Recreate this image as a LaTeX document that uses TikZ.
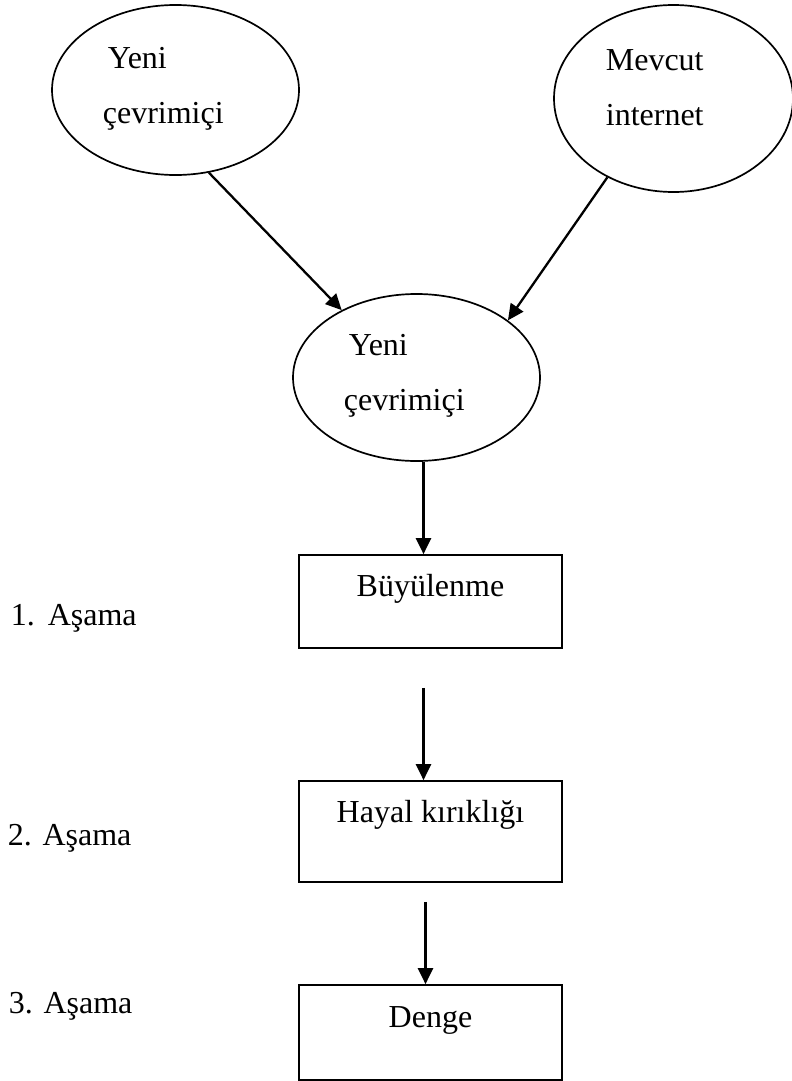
\documentclass[tikz,border=0pt]{standalone}
\usepackage{fontspec}
\setmainfont{Liberation Serif}
\usetikzlibrary{shapes.geometric,arrows.meta}

\begin{document}
\begin{tikzpicture}[x=1pt,y=-1pt,line width=1.7pt,font=\fontsize{32}{55}\selectfont,
    oval/.style={draw,ellipse,inner sep=0pt},
    stage/.style={draw,rectangle,minimum width=263pt,text height=24pt,text depth=35pt,inner sep=0pt},
    lbl/.style={anchor=base west,inner sep=0pt,align=left},
    arr/.style={line width=2.3pt,-{Triangle[length=16pt,width=15pt]}}]
    \useasboundingbox (0,0) rectangle (792,1081);

    % sources
    \node[oval,minimum width=247pt,minimum height=170pt] (src1) at (175.5,90) {};
    \node[oval,minimum width=239pt,minimum height=187pt] (src2) at (673.5,98.5) {};
    \node[oval,minimum width=247pt,minimum height=167pt] (mid) at (416.5,377.5) {};
    \node[lbl] (src1t) at (102,123) {\hspace*{5pt}Yeni\\çevrimiçi};
    \node[lbl] (src2t) at (605,125) {Mevcut\\internet};
    \node[lbl] (midt) at (343,410) {\hspace*{5pt}Yeni\\çevrimiçi};

    % stages
    \node[stage,minimum height=93pt] (box1) at (430.5,601.5) {Büyülenme};
    \node[stage,minimum height=101pt,text depth=43pt] (box2) at (430.5,831.5) {Hayal kırıklığı};
    \node[stage,minimum height=95pt] (box3) at (430.5,1032.5) {Denge};
    \node[lbl] (s1) at (10,625) {1.\hspace{13pt}Aşama};
    \node[lbl] (s2) at (7,845) {2. Aşama};
    \node[lbl] (s3) at (8,1013) {3. Aşama};

    \draw[arr] (src1.-68) -- (mid.138);
    \draw[arr] (src2.-130) -- (mid.32);
    \coordinate (in1) at ([xshift=-7pt]box1.north);
    \draw[arr] (mid.south -| in1) -- (in1);
    \draw[arr] ([xshift=-7pt,yshift=-39pt]box1.south) -- ([xshift=-7pt]box2.north);
    \draw[arr] ([xshift=-5pt,yshift=-19pt]box2.south) -- ([xshift=-5pt]box3.north);
\end{tikzpicture}
\end{document}
